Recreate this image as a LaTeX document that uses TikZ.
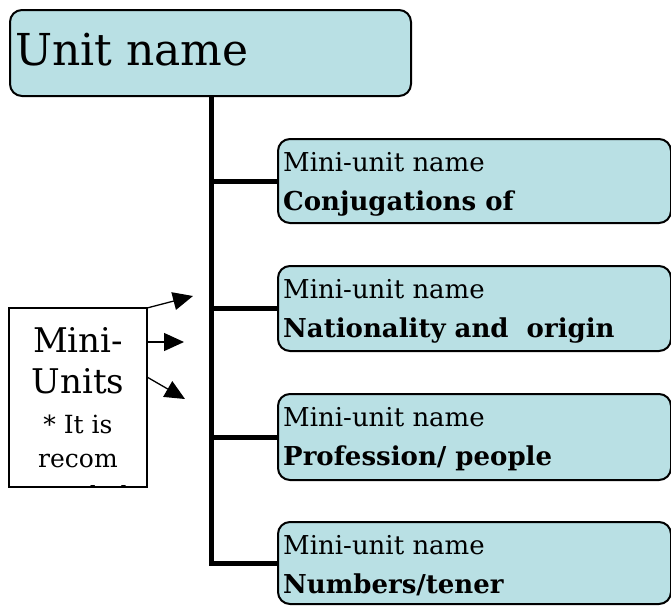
\documentclass[tikz,border=0pt]{standalone}
\usepackage{fontspec}
\setmainfont{DejaVu Serif}
\usetikzlibrary{arrows.meta}
\definecolor{boxfill}{RGB}{185,224,228}
\tikzset{
  unitbox/.style={draw=black, line width=2pt, fill=boxfill, rounded corners=12pt, anchor=north west, inner sep=0pt},
  txt/.style={anchor=base west, inner sep=0pt},
  spineline/.style={line width=5pt},
  arr/.style={line width=1.3pt, -{Triangle[length=20pt,width=18pt]}},
  mutxt/.style={anchor=base, inner sep=0pt},
}
\begin{document}
\begin{tikzpicture}[x=1pt,y=-1pt]
\useasboundingbox (0,0) rectangle (671,606);
% top unit box
\node[unitbox, minimum width=401pt, minimum height=86pt] (unit) at (9,9) {};
\node[txt, font=\fontsize{44}{48}\selectfont] (unitt) at (15,65) {Unit name};
% mini-unit boxes
\node[unitbox, minimum width=393pt, minimum height=84pt] (m1) at (277,138) {};
\node[unitbox, minimum width=393pt, minimum height=85pt] (m2) at (277,265) {};
\node[unitbox, minimum width=393pt, minimum height=86pt] (m3) at (277,393) {};
\node[unitbox, minimum width=393pt, minimum height=82pt] (m4) at (277,521) {};
\foreach \n/\y/\t in {1/138/{Conjugations of}, 2/265/{Nationality and\ \ origin}, 3/393/{Profession/ people}, 4/521/{Numbers/tener}}{
  \node[txt, font=\fontsize{26}{30}\selectfont] (a\n) at (283,\y+33) {Mini-unit name};
  \node[txt, font=\fontsize{26}{30}\selectfont\bfseries] (b\n) at (283,\y+72) {\t};
}
% spine
\coordinate (s) at (211,0);
\draw[spineline] (s |- unit.south) |- (m4.west);
\draw[spineline] (s |- m1.west) -- (m1.west);
\draw[spineline] (s |- m2.west) -- (m2.west);
\draw[spineline] (s |- m3.west) -- (m3.west);
% mini-units box
\coordinate (munw) at (9,308);
\coordinate (muse) at (147,487);
\begin{scope}
\clip (munw) rectangle (muse);
\node[mutxt, font=\fontsize{34}{38}\selectfont] (mu1) at (78,352) {Mini-};
\node[mutxt, font=\fontsize{34}{38}\selectfont] (mu2) at (78,393) {Units};
\node[mutxt, font=\fontsize{25}{28}\selectfont] (mu3) at (78,433) {* It is};
\node[mutxt, font=\fontsize{25}{28}\selectfont] (mu4) at (78,467) {recom};
\node[mutxt, font=\fontsize{25}{28}\selectfont] (mu5) at (78,504) {mended};
\end{scope}
\draw[line width=1.5pt] (munw) rectangle (muse);
% arrows
\coordinate (t1) at (193,296);
\coordinate (f2) at (147,342);
\coordinate (t2) at (184,342);
\coordinate (t3) at (185,399);
\coordinate (f3) at (147,377);
\draw[arr] (munw -| muse) -- (t1);
\draw[arr] (f2) -- (t2);
\draw[arr] (f3) -- (t3);
\end{tikzpicture}
\end{document}
